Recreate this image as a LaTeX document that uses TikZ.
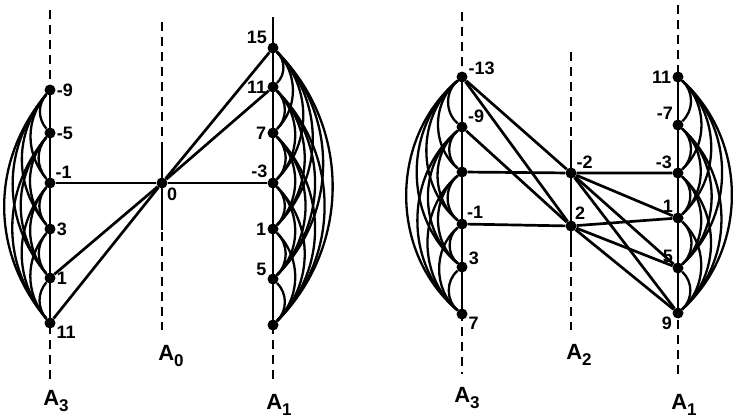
\documentclass[tikz,border=0pt]{standalone}
\usepackage{fontspec}
\setmainfont{Liberation Sans}
\usetikzlibrary{positioning}

\newcommand{\axlab}[1]{A\raisebox{-0.5ex}{\fontsize{17}{17}\selectfont #1}}

\begin{document}
\begin{tikzpicture}[x=1pt, y=-1pt,
    dot/.style={circle, fill=black, inner sep=0pt, minimum size=11pt},
    num/.style={font=\fontsize{18}{18}\selectfont\bfseries, inner sep=1pt},
    axlabel/.style={font=\fontsize{22}{22}\selectfont\bfseries},
    axis/.style={line width=2.6pt},
    dashaxis/.style={line width=2.6pt, dash pattern=on 9pt off 6pt},
    link/.style={line width=2.7pt},
    arcline/.style={line width=2.3pt}
]
    \useasboundingbox (0,0) rectangle (733,420);

    % left diagram: axis A3
    \foreach \y/\t/\a [count=\n] in {90/-9/0, 133/-5/0, 183/-1/40, 229/3/0, 278/1/0, 323/11/-20}
        \node[dot, label={[num]\a:\t}] (lt\n) at (50,\y) {};
    % left diagram: axis A0
    \node[dot, label={[num]-45:0}] (zero) at (162,183) {};
    % left diagram: axis A1
    \foreach \y/\t/\a [count=\n] in {48/15/150, 87/11/180, 133/7/180, 183/-3/140, 229/1/180, 279/5/160, 325//180}
        \node[dot, label={[num]\a:\t}] (lo\n) at (273,\y) {};

    % right diagram: axis A3
    \foreach \y/\t/\a [count=\n] in {77/-13/15, 127/-9/30, 172//0, 224/-1/45, 267/3/10, 314/7/-15}
        \node[dot, label={[num]\a:\t}] (rt\n) at (462,\y) {};
    % right diagram: axis A2
    \node[dot, label={[num]40:-2}] (rm1) at (571,173) {};
    \node[dot, label={[num]60:2}] (rm2) at (571,226) {};
    % right diagram: axis A1
    \foreach \y/\t/\a [count=\n] in {77/11/180, 125/-7/135, 173/-3/150, 218/1/135, 268/5/135, 313/9/210}
        \node[dot, label={[num]\a:\t}] (ro\n) at (678,\y) {};

    % axis ends
    \coordinate (lttop) at (50,10);   \coordinate (ltbot) at (50,380);
    \coordinate (zrtop) at (162,22);  \coordinate (zrbot) at (162,330);
    \coordinate (zrup) at (162,147);  \coordinate (zrdn) at (162,230);
    \coordinate (lotop) at (273,17);  \coordinate (lobot) at (273,382);
    \coordinate (rttop) at (462,12);  \coordinate (rtbot) at (462,374);
    \coordinate (rmtop) at (571,52);  \coordinate (rmbot) at (571,330);
    \coordinate (rmup) at (571,140);  \coordinate (rmdn) at (571,257);
    \coordinate (rotop) at (678,5);   \coordinate (robot) at (678,378);

    \draw[dashaxis] (lttop) -- (ltbot);
    \draw[axis] (lt1.center) -- (lt6.center);
    \draw[dashaxis] (zrtop) -- (zrbot);
    \draw[axis] (zrup) -- (zrdn);
    \draw[axis] (lotop) -- (lo7.center);
    \draw[dashaxis] (lo7.center) -- (lobot);
    \draw[dashaxis] (rttop) -- (rtbot);
    \draw[axis] (rt1.center) -- (rt6.center);
    \draw[dashaxis] (rmtop) -- (rmbot);
    \draw[axis] (rmup) -- (rmdn);
    \draw[dashaxis] (rotop) -- (robot);
    \draw[axis] (ro1.center) -- (ro6.center);

    % axis names
    \node[axlabel] (nlt) at (56,401) {\axlab{3}};
    \node[axlabel] (nzr) at (171,356) {\axlab{0}};
    \node[axlabel] (nlo) at (279,405) {\axlab{1}};
    \node[axlabel] (nrt) at (467,398) {\axlab{3}};
    \node[axlabel] (nrm) at (579,355) {\axlab{2}};
    \node[axlabel] (nro) at (684,405) {\axlab{1}};

    % arcs beside the axes
    \foreach \i in {1,...,5}{
        \pgfmathtruncatemacro\k{\i+1}
        \foreach \j in {\k,...,6}
            \draw[arcline] (lt\i) to[bend right=40] (lt\j);
    }
    \foreach \i in {1,...,6}{
        \pgfmathtruncatemacro\k{\i+1}
        \foreach \j in {\k,...,7}
            \draw[arcline] (lo\i) to[bend left=45] (lo\j);
    }
    \foreach \i in {1,...,5}{
        \pgfmathtruncatemacro\k{\i+1}
        \foreach \j in {\k,...,6}{
            \draw[arcline] (rt\i) to[bend right=50] (rt\j);
            \draw[arcline] (ro\i) to[bend left=48] (ro\j);
        }
    }

    % straight links, left
    \draw[link] (lt3) -- (zero) -- (lo4);
    \draw[link] (lt5) -- (zero) -- (lo2);
    \draw[link] (lt6) -- (zero) -- (lo1);

    % straight links, right
    \draw[link] (rt3) -- (rm1) -- (ro3);
    \draw[link] (rt4) -- (rm2) -- (ro4);
    \draw[link] (rt1) -- (rm1);
    \draw[link] (rt1) -- (rm2);
    \draw[link] (rt2) -- (rm2);
    \draw[link] (rm1) -- (ro4);
    \draw[link] (rm1) -- (ro5);
    \draw[link] (rm1) -- (ro6);
    \draw[link] (rm2) -- (ro5);
    \draw[link] (rm2) -- (ro6);
\end{tikzpicture}
\end{document}
